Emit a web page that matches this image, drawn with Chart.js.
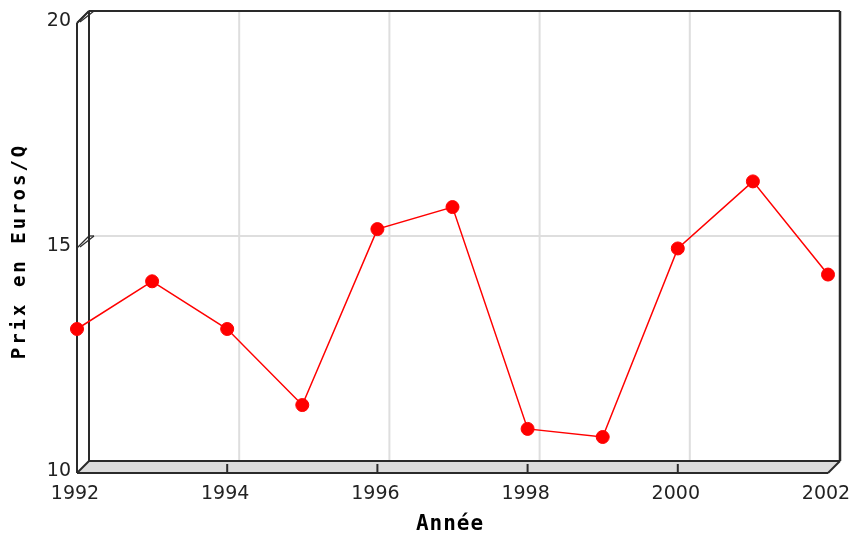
<!DOCTYPE html>
<html>
<head>
<meta charset="utf-8">
<script src="https://cdn.jsdelivr.net/npm/chart.js@4.4.1/dist/chart.umd.min.js"></script>
<style>
  html, body { margin: 0; padding: 0; background: #ffffff; }
  #wrap { width: 851px; height: 540px; }
</style>
</head>
<body>
<div id="wrap"><canvas id="chart" width="851" height="540"></canvas></div>
<script>
// Yearly price series
const years = [1992, 1993, 1994, 1995, 1996, 1997, 1998, 1999, 2000, 2001, 2002];
const prices = [13.2, 14.26, 13.2, 11.51, 15.42, 15.91, 10.98, 10.8, 14.99, 16.48, 14.41];

// Axis ticks and titles
const xTickYears = [1992, 1994, 1996, 1998, 2000, 2002];
const yTickValues = [10, 15, 20];
const xTitle = 'Année';
const yTitle = 'Prix en Euros/Q';

const DEPTH = 12;          // depth offset of the back wall
const EDGE = '#2a2a2a';
const GRID = '#dedede';
const FLOOR = '#dcdcdc';

function line(ctx, x1, y1, x2, y2) {
  ctx.beginPath();
  ctx.moveTo(x1, y1);
  ctx.lineTo(x2, y2);
  ctx.stroke();
}

// Pseudo-3D frame: back wall grid, left wall, floor, ticks and labels
const frame3d = {
  id: 'frame3d',
  beforeDatasetsDraw(chart) {
    const ctx = chart.ctx;
    const xs = chart.scales.x, ys = chart.scales.y;
    const L = xs.getPixelForValue(xs.min), R = xs.getPixelForValue(xs.max);
    const T = ys.getPixelForValue(ys.max), B = ys.getPixelForValue(ys.min);
    const D = DEPTH;
    ctx.save();

    // grid lines on the back wall
    ctx.strokeStyle = GRID;
    ctx.lineWidth = 2;
    yTickValues.forEach(v => {
      if (v === ys.min || v === ys.max) return;
      const py = ys.getPixelForValue(v) - D;
      line(ctx, L + D, py, R + D, py);
    });
    xTickYears.forEach(v => {
      if (v === xs.min || v === xs.max) return;
      const px = xs.getPixelForValue(v) + D;
      line(ctx, px, T - D, px, B - D);
    });

    // floor
    ctx.fillStyle = FLOOR;
    ctx.beginPath();
    ctx.moveTo(L, B);
    ctx.lineTo(R, B);
    ctx.lineTo(R + D, B - D);
    ctx.lineTo(L + D, B - D);
    ctx.closePath();
    ctx.fill();

    ctx.strokeStyle = EDGE;
    ctx.lineWidth = 2;
    line(ctx, L, B, R, B);
    line(ctx, L + D, B - D, R + D, B - D);
    line(ctx, L, B, L + D, B - D);
    line(ctx, R, B, R + D, B - D);

    // left wall
    line(ctx, L, T, L, B);
    line(ctx, L + D, T - D, L + D, B - D);
    line(ctx, L, T, L + D, T - D);

    // back wall outline
    line(ctx, L + D, T - D, R + D, T - D);
    ctx.lineWidth = 2.5;
    line(ctx, R + D, T - D, R + D, B - D);

    // value ticks on the left wall
    ctx.lineWidth = 1.2;
    yTickValues.forEach(v => {
      if (v === ys.min) return;
      const py = ys.getPixelForValue(v);
      line(ctx, L, py, L + D, py - D);
      line(ctx, L + D, py - D, L + D + 5, py - D);
      line(ctx, L + D + 5, py - D, L + 3, py - 1);
    });

    // year ticks on the floor edge
    ctx.lineWidth = 2;
    xTickYears.forEach(v => {
      if (v === xs.min || v === xs.max) return;
      const px = xs.getPixelForValue(v);
      line(ctx, px, B, px, B - 9);
    });

    ctx.restore();
  },
  afterDraw(chart) {
    const ctx = chart.ctx;
    const xs = chart.scales.x, ys = chart.scales.y;
    const L = xs.getPixelForValue(xs.min);
    const B = ys.getPixelForValue(ys.min);
    ctx.save();

    // tick labels
    ctx.fillStyle = '#222';
    ctx.font = '19px "DejaVu Sans"';
    ctx.textAlign = 'right';
    ctx.textBaseline = 'middle';
    yTickValues.forEach(v => {
      ctx.fillText(String(v), L - 6, ys.getPixelForValue(v) - 1.5);
    });
    ctx.textAlign = 'center';
    ctx.textBaseline = 'middle';
    xTickYears.forEach(v => {
      ctx.fillText(String(v), xs.getPixelForValue(v) - 2, B + 21);
    });

    // axis titles
    ctx.fillStyle = '#000';
    ctx.font = 'bold 21px "DejaVu Sans Mono"';
    ctx.letterSpacing = '1px';
    ctx.textAlign = 'center';
    ctx.textBaseline = 'middle';
    ctx.fillText(xTitle, 450, 525);

    ctx.save();
    ctx.translate(20, 252);
    ctx.rotate(-Math.PI / 2);
    ctx.font = 'bold 19px "DejaVu Sans Mono"';
    ctx.letterSpacing = '3px';
    ctx.fillText(yTitle, 1, 0);
    ctx.restore();

    ctx.restore();
  }
};

new Chart(document.getElementById('chart'), {
  type: 'line',
  data: {
    datasets: [{
      data: years.map((y, i) => ({ x: y, y: prices[i] })),
      borderColor: '#ff0000',
      borderWidth: 1.5,
      backgroundColor: '#ff0000',
      pointBackgroundColor: '#ff0000',
      pointBorderColor: '#ff0000',
      pointRadius: 6.5,
      pointBorderWidth: 1,
      tension: 0,
      clip: false
    }]
  },
  options: {
    responsive: false,
    animation: false,
    devicePixelRatio: 1,
    layout: { padding: { left: 77, right: 23, top: 23, bottom: 67 } },
    plugins: {
      legend: { display: false },
      tooltip: { enabled: false }
    },
    scales: {
      x: { type: 'linear', min: 1992, max: 2002, display: false },
      y: { type: 'linear', min: 10, max: 20, display: false }
    }
  },
  plugins: [frame3d]
});
</script>
</body>
</html>
